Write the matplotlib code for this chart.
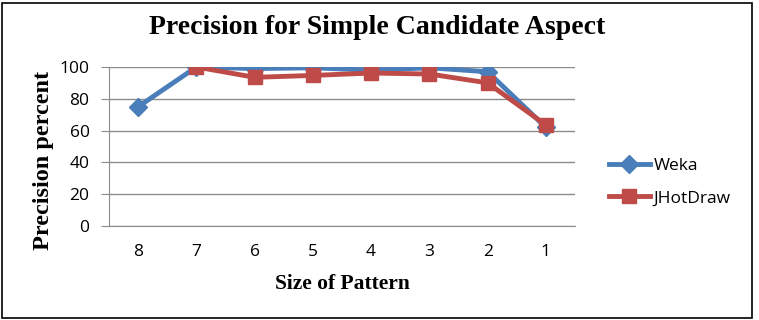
import numpy as np
import matplotlib.pyplot as plt
from matplotlib.patches import Rectangle

# data
sizes = ['8', '7', '6', '5', '4', '3', '2', '1']
weka = [75, 100, 99, 99.5, 98, 99.5, 97, 62]
jhotdraw = [np.nan, 100, 93.5, 94.7, 96.2, 95.6, 90, 63.5]

blue = '#4A7EBB'
red = '#BE4B48'
grid = '#8C8C8C'
serif = 'Liberation Serif'
sans = 'Open Sans'

fig = plt.figure(figsize=(7.59, 3.2), dpi=100)
ax = fig.add_axes([109/759, 1-226/320, (575-109)/759, (226-67)/320])

x = np.arange(len(sizes))
ax.plot(x, weka, color=blue, lw=3.5, marker='D', ms=9, label='Weka', zorder=3)
ax.plot(x, jhotdraw, color=red, lw=3.5, marker='s', ms=10, label='JHotDraw', zorder=4)

ax.set_xlim(-0.5, len(sizes)-0.5)
ax.set_ylim(0, 100)
ax.set_yticks([0, 20, 40, 60, 80, 100])
ax.set_xticks(x)
ax.set_xticklabels(sizes)
for lab in ax.get_xticklabels() + ax.get_yticklabels():
    lab.set_fontfamily(sans)
    lab.set_fontsize(12.5)
    lab.set_color('black')
ax.tick_params(axis='x', length=0, pad=13)
ax.tick_params(axis='y', length=6, color=grid, pad=8)
ax.grid(axis='y', color=grid, lw=1)
ax.set_axisbelow(True)
for s in ['top', 'right']:
    ax.spines[s].set_visible(False)
for s in ['left', 'bottom']:
    ax.spines[s].set_color(grid)

ax.set_xlabel('Size of Pattern', fontfamily=serif, fontweight='bold', fontsize=15.5, labelpad=10)
ax.set_ylabel('Precision percent', fontfamily=serif, fontweight='bold', fontsize=17.5)
ax.yaxis.set_label_coords(-0.118, 0.41)
fig.text(377/759, 1-28/320, 'Precision for Simple Candidate Aspect', ha='center', va='center',
         fontfamily=serif, fontweight='bold', fontsize=20)

leg = fig.legend(loc='center left', bbox_to_anchor=(593/759, 1-182/320), frameon=False,
                 prop={'family': sans, 'size': 12.5}, handlelength=2.4, labelspacing=0.95,
                 handletextpad=0.2)

fig.add_artist(Rectangle((2/759, 2/320), 750/759, 315/320, transform=fig.transFigure,
                         fill=False, ec='black', lw=1.2))

fig.savefig('out.png', dpi=100)
